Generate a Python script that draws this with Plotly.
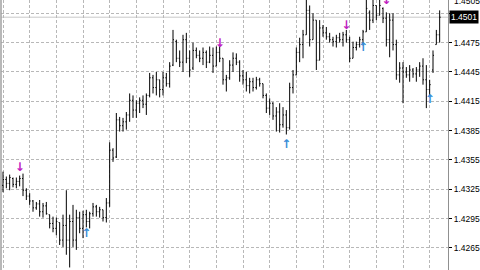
import plotly.graph_objects as go

# OHLC bars
open_ = [1.4329,1.4335,1.4331,1.4336,1.4330,1.4333,1.4336,1.4324,1.4318,1.4313,
         1.4306,1.4310,1.4302,1.4308,1.4299,1.4290,1.4285,1.4291,1.4273,1.4288,
         1.4273,1.4292,1.4273,1.4296,1.4285,1.4299,1.4292,1.4300,1.4307,1.4302,
         1.4304,1.4296,1.4311,1.4365,1.4358,1.4396,1.4390,1.4394,1.4401,1.4416,
         1.4406,1.4413,1.4416,1.4412,1.4421,1.4439,1.4429,1.4437,1.4427,1.4439,
         1.4433,1.4452,1.4476,1.4459,1.4455,1.4478,1.4459,1.4449,1.4467,1.4462,
         1.4459,1.4465,1.4455,1.4462,1.4451,1.4465,1.4459,1.4437,1.4439,1.4452,
         1.4459,1.4455,1.4441,1.4437,1.4431,1.4435,1.4429,1.4437,1.4433,1.4421,
         1.4408,1.4413,1.4400,1.4404,1.4391,1.4401,1.4388,1.4429,1.4442,1.4465,
         1.4473,1.4483,1.4508,1.4478,1.4498,1.4457,1.4490,1.4485,1.4481,1.4478,
         1.4476,1.4480,1.4478,1.4483,1.4478,1.4459,1.4470,1.4473,1.4478,1.4486,
         1.4506,1.4498,1.4513,1.4503,1.4510,1.4500,1.4478,1.4498,1.4473,1.4442,
         1.4449,1.4445,1.4442,1.4447,1.4443,1.4447,1.4451,1.4437,1.4427,1.4447,
         1.4473,1.4483]
high = [1.4343,1.4338,1.4340,1.4337,1.4337,1.4339,1.4341,1.4326,1.4321,1.4314,
        1.4312,1.4314,1.4311,1.4312,1.4299,1.4297,1.4296,1.4291,1.4299,1.4324,
        1.4299,1.4309,1.4304,1.4302,1.4303,1.4304,1.4302,1.4311,1.4309,1.4307,
        1.4304,1.4316,1.4373,1.4367,1.4403,1.4399,1.4398,1.4404,1.4423,1.4421,
        1.4416,1.4419,1.4421,1.4423,1.4444,1.4442,1.4445,1.4437,1.4445,1.4444,
        1.4455,1.4488,1.4478,1.4467,1.4483,1.4485,1.4467,1.4475,1.4470,1.4467,
        1.4470,1.4467,1.4471,1.4470,1.4471,1.4473,1.4459,1.4442,1.4457,1.4465,
        1.4464,1.4457,1.4447,1.4445,1.4439,1.4439,1.4440,1.4439,1.4433,1.4423,
        1.4418,1.4414,1.4409,1.4413,1.4409,1.4406,1.4434,1.4447,1.4470,1.4480,
        1.4488,1.4524,1.4513,1.4505,1.4498,1.4498,1.4493,1.4491,1.4485,1.4481,
        1.4483,1.4485,1.4486,1.4488,1.4481,1.4476,1.4476,1.4481,1.4488,1.4519,
        1.4508,1.4519,1.4513,1.4522,1.4511,1.4506,1.4505,1.4505,1.4478,1.4455,
        1.4455,1.4450,1.4452,1.4449,1.4450,1.4455,1.4459,1.4452,1.4437,1.4467,
        1.4488,1.4508]
low = [1.4322,1.4326,1.4324,1.4327,1.4326,1.4328,1.4318,1.4314,1.4309,1.4302,
       1.4304,1.4297,1.4296,1.4299,1.4285,1.4281,1.4278,1.4268,1.4266,1.4258,
       1.4245,1.4266,1.4263,1.4280,1.4275,1.4286,1.4285,1.4297,1.4297,1.4296,
       1.4292,1.4291,1.4307,1.4353,1.4357,1.4384,1.4384,1.4386,1.4394,1.4398,
       1.4398,1.4403,1.4408,1.4401,1.4419,1.4423,1.4421,1.4419,1.4421,1.4430,
       1.4429,1.4451,1.4455,1.4450,1.4445,1.4454,1.4440,1.4447,1.4459,1.4455,
       1.4452,1.4449,1.4454,1.4444,1.4451,1.4455,1.4432,1.4425,1.4437,1.4445,
       1.4452,1.4435,1.4432,1.4425,1.4423,1.4425,1.4427,1.4430,1.4418,1.4403,
       1.4401,1.4396,1.4384,1.4383,1.4388,1.4381,1.4386,1.4423,1.4442,1.4455,
       1.4459,1.4483,1.4471,1.4478,1.4447,1.4457,1.4481,1.4478,1.4475,1.4471,
       1.4470,1.4475,1.4471,1.4475,1.4455,1.4459,1.4467,1.4470,1.4472,1.4486,
       1.4488,1.4495,1.4498,1.4503,1.4495,1.4471,1.4460,1.4467,1.4437,1.4434,
       1.4413,1.4439,1.4435,1.4439,1.4435,1.4440,1.4432,1.4408,1.4421,1.4444,
       1.4473,1.4475]
close = [1.4335,1.4331,1.4337,1.4330,1.4333,1.4336,1.4324,1.4318,1.4313,1.4306,
         1.4310,1.4302,1.4308,1.4300,1.4290,1.4285,1.4292,1.4273,1.4288,1.4273,
         1.4292,1.4273,1.4296,1.4285,1.4299,1.4292,1.4300,1.4307,1.4302,1.4304,
         1.4296,1.4311,1.4365,1.4357,1.4396,1.4390,1.4394,1.4401,1.4416,1.4406,
         1.4413,1.4416,1.4412,1.4421,1.4439,1.4429,1.4437,1.4427,1.4439,1.4433,
         1.4451,1.4478,1.4459,1.4455,1.4478,1.4459,1.4447,1.4467,1.4462,1.4459,
         1.4465,1.4455,1.4462,1.4451,1.4465,1.4459,1.4437,1.4439,1.4452,1.4459,
         1.4455,1.4441,1.4437,1.4431,1.4435,1.4429,1.4437,1.4433,1.4421,1.4408,
         1.4413,1.4400,1.4404,1.4391,1.4401,1.4388,1.4429,1.4442,1.4465,1.4473,
         1.4483,1.4508,1.4478,1.4498,1.4457,1.4490,1.4485,1.4481,1.4478,1.4476,
         1.4480,1.4478,1.4483,1.4478,1.4459,1.4470,1.4473,1.4478,1.4486,1.4510,
         1.4498,1.4513,1.4503,1.4513,1.4500,1.4478,1.4498,1.4473,1.4442,1.4449,
         1.4445,1.4442,1.4447,1.4443,1.4447,1.4451,1.4437,1.4427,1.4432,1.4462,
         1.4483,1.4501]

# Fractal arrows (bar index, price)
frac_up_idx = [5, 65, 103, 115]
frac_up_price = [1.4347, 1.4474, 1.4492, 1.4518]
frac_dn_idx = [25, 85, 108, 128]
frac_dn_price = [1.4279, 1.4370, 1.4469, 1.4416]

# Price scale
price_ticks = [1.4265, 1.4295, 1.4325, 1.4355, 1.4385, 1.4415, 1.4445, 1.4475, 1.4505]
price_labels = ["1.4265", "1.4295", "1.4325", "1.4355", "1.4385", "1.4415", "1.4445", "1.4475", ""]
bid = 1.4501
bid_label = "1.4501"
hidden_label = "1.4505"

idx = list(range(len(close)))

fig = go.Figure()
fig.add_trace(go.Ohlc(
    x=idx, open=open_, high=high, low=low, close=close,
    increasing=dict(line=dict(color="#000000", width=1)),
    decreasing=dict(line=dict(color="#000000", width=1)),
    tickwidth=0.3, hoverinfo="skip", showlegend=False,
))
fig.add_trace(go.Scatter(
    x=frac_up_idx, y=frac_up_price, mode="text", text=["<b>↓</b>"] * len(frac_up_idx),
    textfont=dict(color="#C020C0", size=12, family="DejaVu Sans"),
    textposition="middle center", showlegend=False, hoverinfo="skip",
))
fig.add_trace(go.Scatter(
    x=frac_dn_idx, y=frac_dn_price, mode="text", text=["<b>↑</b>"] * len(frac_dn_idx),
    textfont=dict(color="#3A8ED8", size=12, family="DejaVu Sans"),
    textposition="middle center", showlegend=False, hoverinfo="skip",
))

grid = dict(showgrid=True, gridcolor="#B8B8B8", griddash="3px,2px", gridwidth=1)

fig.update_layout(
    width=480, height=270,
    margin=dict(l=1, r=32, t=0, b=0),
    paper_bgcolor="#FFFFFF", plot_bgcolor="#FFFFFF",
    showlegend=False,
    font=dict(family="Liberation Sans", size=8.5, color="#000000"),
    xaxis=dict(range=[-0.6, 133.5], tick0=0, dtick=8, showticklabels=False,
               zeroline=False, showline=False, ticks="", rangeslider=dict(visible=False),
               fixedrange=True, **grid),
    yaxis=dict(side="right", range=[1.42424, 1.45186], tickvals=price_ticks,
               ticktext=price_labels, zeroline=False, showline=True,
               linecolor="#909090", linewidth=1, ticks="outside", ticklen=3,
               tickcolor="#000000", tickfont=dict(family="Liberation Sans", size=8.5, color="#000000"),
               fixedrange=True, **grid),
    shapes=[
        dict(type="line", xref="paper", yref="y", x0=0, x1=1, y0=bid, y1=bid,
             line=dict(color="#C8C8C8", width=1), layer="below"),
        dict(type="line", xref="paper", yref="paper", x0=0, x1=0, y0=0, y1=1,
             line=dict(color="#A0A0A0", width=1.5)),
    ],
    annotations=[
        dict(xref="paper", yref="y", x=1, y=bid, xanchor="left", yanchor="middle",
             xshift=1, text=bid_label, showarrow=False, bgcolor="#000000",
             font=dict(color="#FFFFFF", size=8.5, family="Liberation Sans"), borderpad=1),
        dict(xref="paper", yref="y", x=1, y=1.4518, xanchor="left", yanchor="middle",
             xshift=4, text=hidden_label, showarrow=False,
             font=dict(color="#000000", size=8.5, family="Liberation Sans")),
    ],
)

fig.write_html("out.html")
